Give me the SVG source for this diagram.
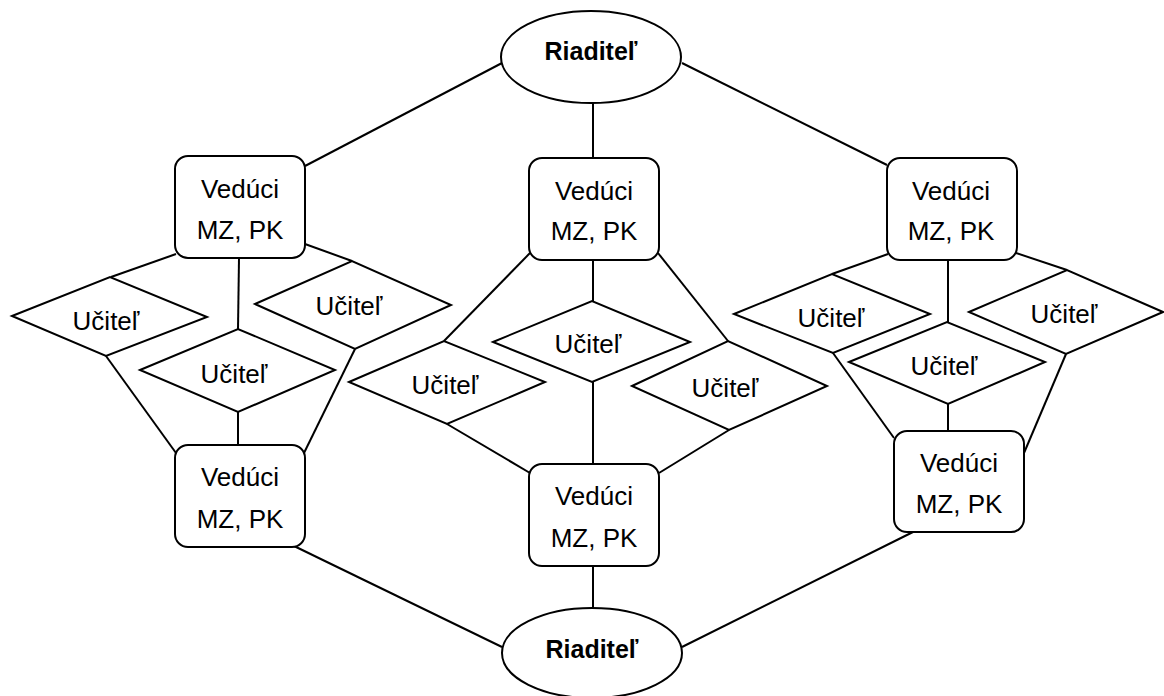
<svg xmlns="http://www.w3.org/2000/svg" width="1164" height="696" viewBox="0 0 1164 696">
<style>
.s{fill:#fff;stroke:#000;stroke-width:2}
.c line{stroke:#000;stroke-width:2}
text{font-family:"Liberation Sans",Arial,sans-serif;font-size:26px;fill:#000;text-anchor:middle}
.b{font-weight:bold;font-size:25px}
</style>
<rect width="1164" height="696" fill="#fff"/>
<g class="c" id="connectors">
<line x1="305" y1="166" x2="502" y2="63"/>
<line x1="593" y1="103" x2="593" y2="158"/>
<line x1="682" y1="63" x2="887" y2="165"/>
<line x1="176" y1="254" x2="111" y2="277"/>
<line x1="239" y1="258" x2="238" y2="329"/>
<line x1="305" y1="244" x2="352" y2="261"/>
<line x1="106" y1="356" x2="176" y2="453"/>
<line x1="238" y1="412" x2="238" y2="445"/>
<line x1="355" y1="349" x2="304" y2="453"/>
<line x1="530" y1="253" x2="444" y2="341"/>
<line x1="593" y1="260" x2="593" y2="301"/>
<line x1="658" y1="253" x2="728" y2="341"/>
<line x1="447" y1="424" x2="530" y2="473"/>
<line x1="593" y1="382" x2="593" y2="464"/>
<line x1="729" y1="430" x2="659" y2="473"/>
<line x1="888" y1="254" x2="832" y2="274"/>
<line x1="948" y1="260" x2="948" y2="322"/>
<line x1="1016" y1="253" x2="1067" y2="270"/>
<line x1="833" y1="353" x2="894" y2="438"/>
<line x1="948" y1="404" x2="948" y2="431"/>
<line x1="1066" y1="354" x2="1024" y2="453"/>
<line x1="294" y1="546" x2="502" y2="647"/>
<line x1="593" y1="567" x2="593" y2="608"/>
<line x1="913" y1="532" x2="682" y2="647"/>
</g>
<g id="riaditel-top"><ellipse class="s" cx="591" cy="57" rx="90" ry="46"/><text class="b" x="591" y="60">Riaditeľ</text></g>
<g id="riaditel-bottom"><ellipse class="s" cx="592" cy="653" rx="90" ry="45"/><text class="b" x="592" y="658">Riaditeľ</text></g>
<g id="veduci-l1"><rect class="s" x="175" y="156" width="130" height="102" rx="13"/><text x="240" y="198">Vedúci</text><text x="240" y="239">MZ, PK</text></g>
<g id="veduci-l2"><rect class="s" x="175" y="445" width="130" height="102" rx="13"/><text x="240" y="486">Vedúci</text><text x="240" y="528">MZ, PK</text></g>
<g id="veduci-m1"><rect class="s" x="529" y="158" width="130" height="102" rx="13"/><text x="594" y="200">Vedúci</text><text x="594" y="240">MZ, PK</text></g>
<g id="veduci-m2"><rect class="s" x="529" y="464" width="130" height="102" rx="13"/><text x="594" y="505">Vedúci</text><text x="594" y="547">MZ, PK</text></g>
<g id="veduci-r1"><rect class="s" x="887" y="158" width="130" height="102" rx="13"/><text x="951" y="200">Vedúci</text><text x="951" y="240">MZ, PK</text></g>
<g id="veduci-r2"><rect class="s" x="894" y="431" width="130" height="101" rx="13"/><text x="959" y="472">Vedúci</text><text x="959" y="513">MZ, PK</text></g>
<g id="ucitel-l1"><polygon class="s" points="12,316 110,277 207,317 106,356"/><text x="106" y="330">Učiteľ</text></g>
<g id="ucitel-l2"><polygon class="s" points="140,370 238,329 335,370 238,412"/><text x="234" y="383">Učiteľ</text></g>
<g id="ucitel-l3"><polygon class="s" points="255,304 352,261 451,305 355,349"/><text x="349" y="315">Učiteľ</text></g>
<g id="ucitel-m1"><polygon class="s" points="349,382 444,341 545,382 447,424"/><text x="445" y="394">Učiteľ</text></g>
<g id="ucitel-m2"><polygon class="s" points="493,342 592,301 690,342 592,382"/><text x="588" y="353">Učiteľ</text></g>
<g id="ucitel-m3"><polygon class="s" points="632,386 728,341 827,386 729,430"/><text x="725" y="397">Učiteľ</text></g>
<g id="ucitel-r1"><polygon class="s" points="734,314 832,274 930,314 833,353"/><text x="831" y="327">Učiteľ</text></g>
<g id="ucitel-r2"><polygon class="s" points="849,362 947,322 1045,362 948,404"/><text x="944" y="375">Učiteľ</text></g>
<g id="ucitel-r3"><polygon class="s" points="969,312 1067,270 1163,312 1066,354"/><text x="1064" y="323">Učiteľ</text></g>
</svg>
